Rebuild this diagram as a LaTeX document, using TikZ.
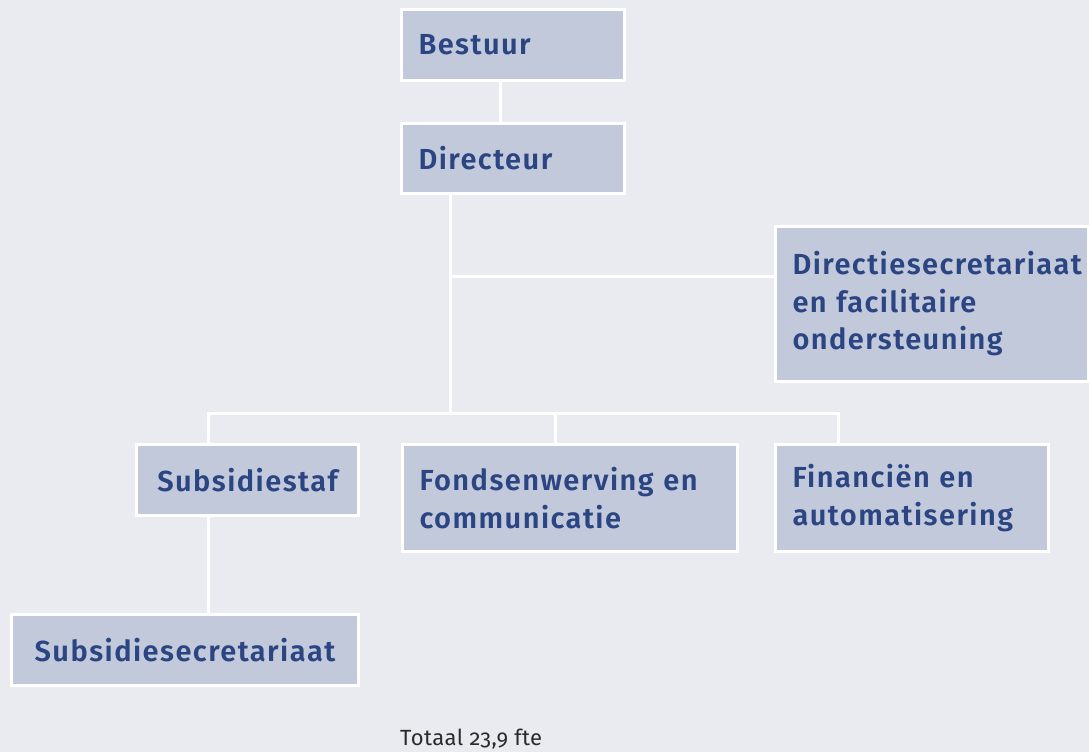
\documentclass[tikz,border=0pt]{standalone}
\usepackage{fontspec}
\setmainfont{Fira Sans}[BoldFont={Fira Sans SemiBold}, BoldFeatures={LetterSpace=5}]
\newfontfamily\footfont{Fira Sans}[Numbers=OldStyle, LetterSpace=2]
\usetikzlibrary{backgrounds}
\definecolor{bg}{HTML}{EAEBF0}
\definecolor{boxfill}{HTML}{C2C9DB}
\definecolor{txt}{HTML}{2B4583}
\definecolor{foot}{HTML}{2B2B2B}
\tikzset{
  unit/.style={draw=white, line width=3pt, fill=boxfill, text=txt,
    font=\bfseries\fontsize{29}{37.5}\selectfont,
    inner xsep=17pt, inner ysep=0pt, outer sep=0pt},
  link/.style={draw=white, line width=3pt},
}
\begin{document}
\begin{tikzpicture}[x=1pt,y=-1pt]
\useasboundingbox (0,0) rectangle (1089,752);
\node[unit, minimum width=223pt, minimum height=71pt, text width=189pt, align=left] (bestuur) at (513,45) {Bestuur};
\node[unit, minimum width=223pt, minimum height=70pt, text width=189pt, align=left] (directeur) at (513,158.5) {Directeur};
\node[unit, minimum width=313pt, minimum height=155pt, text width=279pt, align=left] (secr) at (932,304) {Directiesecretariaat\\en facilitaire\\ondersteuning};
\node[unit, minimum width=222pt, minimum height=71pt, text width=188pt, align=center] (staf) at (247.5,480) {Subsidiestaf};
\node[unit, minimum width=335pt, minimum height=107pt, text width=301pt, align=left] (fonds) at (570,498) {Fondsenwerving en\\communicatie};
\node[unit, minimum width=273pt, minimum height=107pt, text width=239pt, align=left] (fin) at (912,498) {Financiën en\\automatisering};
\node[unit, minimum width=347pt, minimum height=71pt, text width=313pt, align=center] (subsecr) at (185,650) {Subsidiesecretariaat};
\node[anchor=base west, inner sep=0pt, text=foot, font=\footfont\fontsize{22}{26}\selectfont] (total) at (400,745) {Totaal 23,9 fte};
\coordinate (xa) at (500,0);
\coordinate (xb) at (450,0);
\coordinate (bus) at (0,413);
\coordinate (side) at (0,276);
\coordinate (xl) at (208,0);
\coordinate (xm) at (555,0);
\coordinate (xr) at (838,0);
\begin{pgfonlayer}{background}
\fill[bg] (0,0) rectangle (1089,752);
\draw[link] (bestuur.south -| xa) -- (directeur.north -| xa);
\draw[link] (directeur.south -| xb) -- (bus -| xb);
\draw[link] (side -| xb) -- (side -| secr.west);
\draw[link] (staf.north -| xl) -- (bus -| xl) -- (bus -| xr) -- (fin.north -| xr);
\draw[link] (bus -| xm) -- (fonds.north -| xm);
\draw[link] (staf.south -| xl) -- (subsecr.north -| xl);
\end{pgfonlayer}
\end{tikzpicture}
\end{document}
